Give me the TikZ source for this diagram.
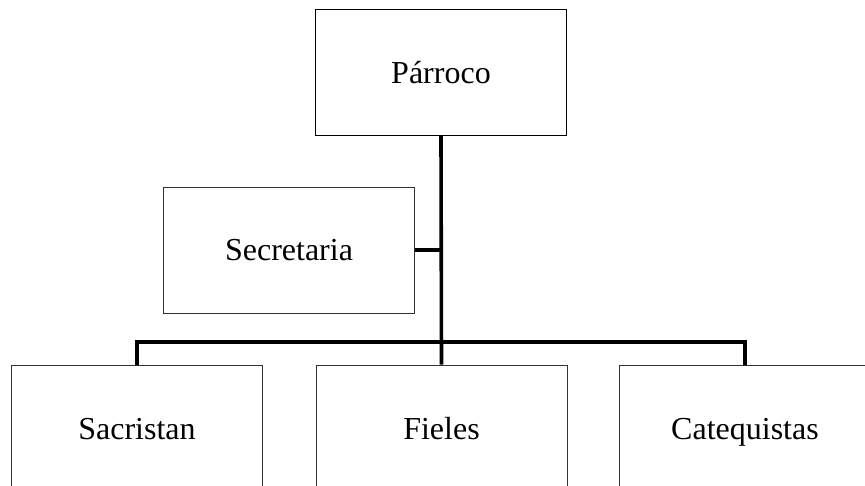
\documentclass[tikz,border=0pt]{standalone}
\usepackage{fontspec}
\setmainfont{Liberation Serif}
\begin{document}
\begin{tikzpicture}[x=1pt,y=-1pt,
  box/.style={draw=black!80, line width=0.9pt, rectangle, minimum width=251pt, minimum height=126pt, inner sep=0pt, text height=22pt, text depth=0pt, font=\fontsize{32}{38}\selectfont, fill=white},
  topbox/.style={box, draw=black, line width=1.3pt},
  link/.style={draw=black, line width=3.6pt}]
\useasboundingbox (0,0) rectangle (865,486);
\clip (0,0) rectangle (865,486);
\node[topbox] (par) at (441,72.5) {Párroco};
\node[box] (sec) at (289,250) {Secretaria};
\node[box] (sac) at (137,428) {Sacristan};
\node[box] (fie) at (441.5,428) {Fieles};
\node[box] (cat) at (745,428) {Catequistas};
\coordinate (bar) at (441,342);
\draw[link] (par.south) -- (fie.north);
\draw[link] (sec.east) -- (sec.east -| par.south);
\draw[link] (sac.north) |- (bar) -| (cat.north);
\end{tikzpicture}
\end{document}
